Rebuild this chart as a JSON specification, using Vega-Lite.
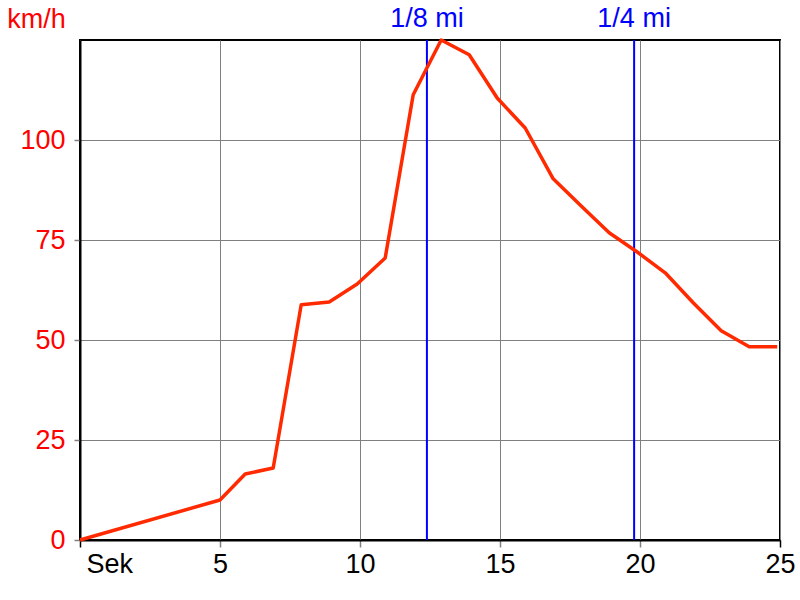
{
  "$schema": "https://vega.github.io/schema/vega-lite/v6.json",
  "width": 700,
  "height": 500,
  "autosize": "none",
  "padding": {"left": 80, "top": 40, "right": 20, "bottom": 60},
  "background": "white",
  "config": {
    "view": {"stroke": "black", "strokeWidth": 2},
    "font": "Liberation Sans"
  },
  "datasets": {
    "speed": [
      {"sek": 0, "kmh": 0},
      {"sek": 5, "kmh": 10},
      {"sek": 5.9, "kmh": 16.5},
      {"sek": 6.9, "kmh": 18},
      {"sek": 7.9, "kmh": 58.8},
      {"sek": 8.9, "kmh": 59.5},
      {"sek": 9.9, "kmh": 64},
      {"sek": 10.9, "kmh": 70.5},
      {"sek": 11.9, "kmh": 111.3},
      {"sek": 12.9, "kmh": 125},
      {"sek": 13.9, "kmh": 121.3},
      {"sek": 14.9, "kmh": 110.5},
      {"sek": 15.9, "kmh": 103},
      {"sek": 16.9, "kmh": 90.3},
      {"sek": 17.9, "kmh": 83.5},
      {"sek": 18.9, "kmh": 76.8},
      {"sek": 19.9, "kmh": 72},
      {"sek": 20.9, "kmh": 66.8},
      {"sek": 21.9, "kmh": 59.3},
      {"sek": 22.9, "kmh": 52.3},
      {"sek": 23.9, "kmh": 48.3},
      {"sek": 24.9, "kmh": 48.3}
    ],
    "marks": [
      {"sek": 12.39, "label": "1/8 mi", "top": 125},
      {"sek": 19.79, "label": "1/4 mi", "top": 125}
    ]
  },
  "layer": [
    {
      "data": {"name": "marks"},
      "mark": {"type": "rule", "color": "#0000ff", "strokeWidth": 2},
      "encoding": {
        "x": {"field": "sek", "type": "quantitative", "scale": {"domain": [0, 25], "nice": false},
          "axis": {
            "values": [0, 5, 10, 15, 20, 25],
            "title": null,
            "labelExpr": "datum.value == 0 ? 'Sek' : datum.label",
            "labelAlign": {"condition": {"test": "datum.value == 0", "value": "left"}, "value": "center"},
            "labelOffset": {"condition": {"test": "datum.value == 0", "value": 6}, "value": 0},
            "labelFontSize": 27,
            "labelColor": "black",
            "labelPadding": 4,
            "labelFlush": false,
            "domainColor": "black",
            "domainWidth": 2,
            "grid": true,
            "gridColor": "#808080",
            "gridWidth": 1,
            "gridOpacity": 1,
            "tickColor": {"condition": {"test": "datum.value == 0 || datum.value == 25", "value": "black"}, "value": "#808080"},
            "tickSize": 7,
            "tickWidth": 1.5
          }},
        "y": {"datum": 0, "type": "quantitative"},
        "y2": {"datum": 125}
      }
    },
    {
      "data": {"name": "marks"},
      "mark": {"type": "text", "color": "#0000ff", "fontSize": 27, "dy": -13, "baseline": "alphabetic", "clip": false},
      "encoding": {
        "x": {"field": "sek", "type": "quantitative"},
        "y": {"field": "top", "type": "quantitative"},
        "text": {"field": "label"}
      }
    },
    {
      "data": {"name": "speed"},
      "mark": {"type": "line", "color": "#ff2a00", "strokeWidth": 3.5, "strokeJoin": "round"},
      "encoding": {
        "x": {"field": "sek", "type": "quantitative"},
        "y": {"field": "kmh", "type": "quantitative", "scale": {"domain": [0, 125], "nice": false},
          "axis": {
            "values": [0, 25, 50, 75, 100],
            "title": "km/h",
            "titleColor": "#ff0000",
            "titleFontSize": 27,
            "titleFontWeight": "normal",
            "titleAngle": 0,
            "titleAlign": "center",
            "titleBaseline": "alphabetic",
            "titleX": -44,
            "titleY": -13,
            "labelFontSize": 27,
            "labelColor": "#ff0000",
            "labelPadding": 9,
            "domainColor": "black",
            "domainWidth": 2,
            "grid": true,
            "gridColor": "#808080",
            "gridWidth": 1,
            "gridOpacity": 1,
            "tickColor": "#808080",
            "tickSize": 6,
            "tickWidth": 1.5
          }}
      }
    }
  ]
}
